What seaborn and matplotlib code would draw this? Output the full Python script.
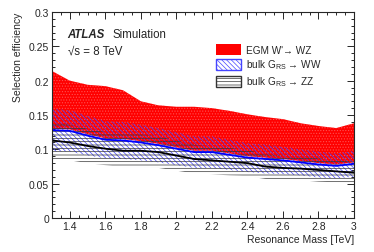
import matplotlib
matplotlib.use("Agg")
import matplotlib.pyplot as plt
from matplotlib.ticker import MultipleLocator
import seaborn as sns
import pandas as pd

# Resonance mass points [TeV]
mass = [1.3, 1.4, 1.5, 1.6, 1.7, 1.8, 1.9, 2.0, 2.1, 2.2,
        2.3, 2.4, 2.5, 2.6, 2.7, 2.8, 2.9, 3.0]

# EGM W' -> WZ band
wz_lo = [0.130, 0.129, 0.122, 0.116, 0.115, 0.112, 0.108, 0.103, 0.098, 0.098,
         0.094, 0.090, 0.088, 0.086, 0.083, 0.080, 0.078, 0.081]
wz_hi = [0.214, 0.200, 0.194, 0.192, 0.186, 0.170, 0.164, 0.162, 0.162, 0.160,
         0.156, 0.151, 0.147, 0.144, 0.138, 0.134, 0.131, 0.138]

# bulk G_RS -> WW: central value and band
ww = [0.128, 0.127, 0.120, 0.114, 0.113, 0.110, 0.106, 0.101, 0.096, 0.096,
      0.092, 0.088, 0.086, 0.084, 0.081, 0.078, 0.076, 0.079]
ww_lo = [0.097, 0.097, 0.091, 0.087, 0.086, 0.084, 0.081, 0.077, 0.073, 0.073,
         0.070, 0.067, 0.065, 0.064, 0.062, 0.059, 0.058, 0.060]
ww_hi = [0.159, 0.157, 0.149, 0.141, 0.140, 0.136, 0.131, 0.125, 0.119, 0.119,
         0.114, 0.109, 0.107, 0.104, 0.100, 0.097, 0.094, 0.098]

# bulk G_RS -> ZZ: central value and band
zz = [0.113, 0.110, 0.105, 0.101, 0.098, 0.098, 0.096, 0.091, 0.086, 0.084,
      0.082, 0.080, 0.075, 0.073, 0.072, 0.070, 0.068, 0.066]
zz_lo = [0.086, 0.084, 0.080, 0.077, 0.074, 0.074, 0.073, 0.069, 0.065, 0.064,
         0.062, 0.061, 0.057, 0.055, 0.055, 0.053, 0.052, 0.050]
zz_hi = [0.140, 0.136, 0.130, 0.125, 0.122, 0.122, 0.119, 0.113, 0.107, 0.104,
         0.102, 0.099, 0.093, 0.091, 0.089, 0.087, 0.084, 0.082]

df = pd.DataFrame({"mass": mass, "ww": ww, "zz": zz})

sns.set_style("ticks")
plt.rcParams["font.family"] = ["Liberation Sans", "DejaVu Sans"]
plt.rcParams["mathtext.fontset"] = "custom"
plt.rcParams["mathtext.rm"] = "Liberation Sans"
plt.rcParams["mathtext.it"] = "Liberation Sans:italic"
plt.rcParams["hatch.linewidth"] = 0.5

fig = plt.figure(figsize=(3.74, 2.53), dpi=100)
ax = fig.add_axes([0.139, 0.134, 0.8075, 0.815])

# bands
h_wz = ax.fill_between(mass, wz_lo, wz_hi, facecolor="#ff0000",
                       edgecolor="#ff5050", hatch="......", linewidth=0,
                       label="EGM W'→ WZ")
h_ww = ax.fill_between(mass, ww_lo, ww_hi, facecolor="none",
                       edgecolor="#4444ff", hatch="\\\\\\\\\\\\\\", linewidth=0,
                       label="bulk G$_{\\rm RS}$ → WW")
h_zz = ax.fill_between(mass, zz_lo, zz_hi, facecolor="none",
                       edgecolor="#333333", hatch="-----", linewidth=0,
                       label="bulk G$_{\\rm RS}$ → ZZ")

# central lines
sns.lineplot(data=df, x="mass", y="ww", ax=ax, color="#0000ff", linewidth=1.3)
sns.lineplot(data=df, x="mass", y="zz", ax=ax, color="black", linewidth=1.3)

ax.set_xlim(1.3, 3.0)
ax.set_ylim(0, 0.3)
ax.xaxis.set_major_locator(MultipleLocator(0.2))
ax.xaxis.set_minor_locator(MultipleLocator(0.05))
ax.yaxis.set_major_locator(MultipleLocator(0.05))
ax.yaxis.set_minor_locator(MultipleLocator(0.01))
ax.tick_params(which="both", direction="in", top=True, right=True,
               labelsize=7.5, width=0.7, pad=2)
ax.tick_params(which="major", length=5)
ax.tick_params(which="minor", length=2.5)
ax.set_xticks([1.4, 1.6, 1.8, 2.0, 2.2, 2.4, 2.6, 2.8, 3.0])
ax.set_xticklabels(["1.4", "1.6", "1.8", "2", "2.2", "2.4", "2.6", "2.8", "3"])
ax.set_yticks([0, 0.05, 0.1, 0.15, 0.2, 0.25, 0.3])
ax.set_yticklabels(["0", "0.05", "0.1", "0.15", "0.2", "0.25", "0.3"])
for s in ax.spines.values():
    s.set_linewidth(0.8)

ax.set_xlabel("Resonance Mass [TeV]", fontsize=7.5, loc="right", labelpad=2)
ax.set_ylabel("Selection efficiency", fontsize=7.5, loc="top", labelpad=4)

ax.text(0.052, 0.895, "ATLAS", transform=ax.transAxes, fontsize=8.3,
        fontweight="bold", fontstyle="italic", va="center")
ax.text(0.2, 0.895, "Simulation", transform=ax.transAxes, fontsize=8.3,
        va="center")
ax.text(0.052, 0.81, "√s = 8 TeV", transform=ax.transAxes,
        fontsize=8.3, va="center")

leg = ax.legend(handles=[h_wz, h_ww, h_zz], loc="upper left",
                bbox_to_anchor=(0.53, 0.865), frameon=False, fontsize=7.2,
                handlelength=2.5, handleheight=1.3, labelspacing=0.3,
                handletextpad=0.5, borderaxespad=0)
leg.legend_handles[0].set_edgecolor("#ff0000")
leg.legend_handles[1].set_linewidth(1.0)
leg.legend_handles[1].set_edgecolor("#4444ff")
leg.legend_handles[2].set_linewidth(1.0)

fig.savefig("out.png", dpi=100)
